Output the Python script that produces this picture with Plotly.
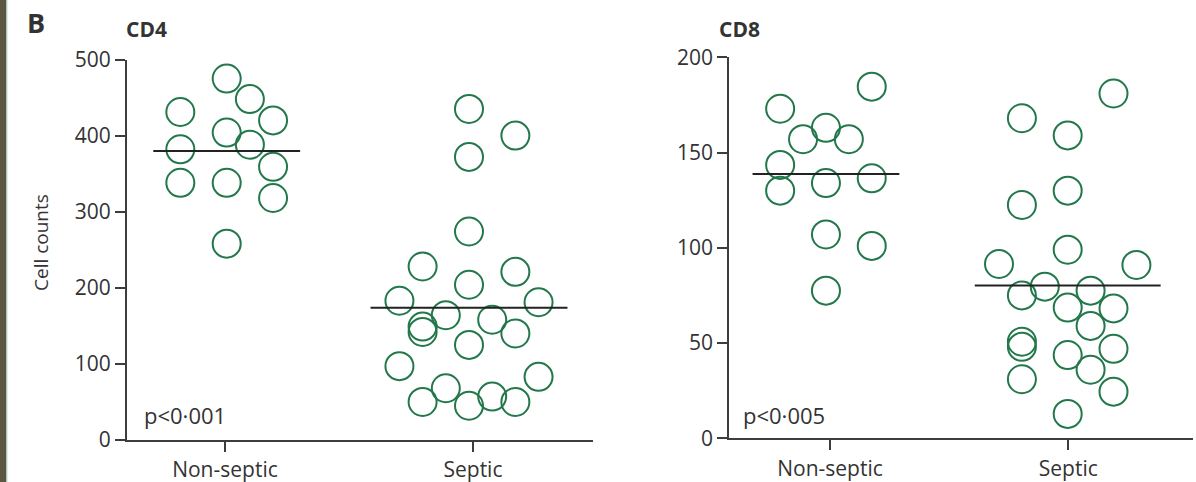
import numpy as np
import plotly.graph_objects as go

W, H = 1196, 482

categories = ["Non-septic", "Septic"]

# CD4 values (cells) and horizontal jitter slots
cd4_nonseptic = [475, 448, 431, 420, 404, 382, 388, 359, 338, 338, 318, 258]
cd4_nonseptic_slot = [0, 1, -2, 2, 0, -2, 1, 2, -2, 0, 2, 0]
cd4_septic = [435, 400, 372, 274, 228, 221, 204, 183, 181, 164, 158, 149, 142, 140,
              125, 97, 83, 68, 50, 45, 57, 50]
cd4_septic_slot = [0, 2, 0, 0, -2, 2, 0, -3, 3, -1, 1, -2, -2, 2, 0, -3, 3, -1, -2, 0, 1, 2]

# CD8 values and jitter slots
cd8_nonseptic = [184.6, 173, 163, 157, 157, 143.5, 136.5, 134, 130, 107, 101, 77.5]
cd8_nonseptic_slot = [2, -2, 0, -1, 1, -2, 2, 0, -2, 0, 2, 0]
cd8_septic = [181, 168, 159, 130, 122.5, 99, 91.5, 91, 79.6, 75, 77.5, 68.6, 68.2, 59,
              50.7, 48, 43.7, 47, 36, 31, 24.5, 12.8]
cd8_septic_slot = [2, -2, 0, 0, -2, 0, -3, 3, -1, -2, 1, 0, 2, 1, -2, -2, 0, 2, 1, -2, 2, 0]

p_values = ["p<0\u00b7001", "p<0\u00b7005"]

GREEN = "#22784a"
TEXT = "#333333"
AXIS = "#3d3d3d"
FONT = "Open Sans"


def px_x(p):
    return p / W


def px_y(p):
    return (H - p) / H


fig = go.Figure()

panels = [
    dict(xa="x", ya="y", ns=cd4_nonseptic, nss=cd4_nonseptic_slot, s=cd4_septic, ss=cd4_septic_slot,
         step=0.0935, c_ns=0.007, c_s=0.984, half_ns=0.296, half_s=0.397),
    dict(xa="x2", ya="y2", ns=cd8_nonseptic, nss=cd8_nonseptic_slot, s=cd8_septic, ss=cd8_septic_slot,
         step=0.0961, c_ns=-0.017, c_s=0.9975, half_ns=0.308, half_s=0.39),
]

for pn in panels:
    for vals, slots, c, half in [(pn["ns"], pn["nss"], pn["c_ns"], pn["half_ns"]),
                                 (pn["s"], pn["ss"], pn["c_s"], pn["half_s"])]:
        xs = [c + sl * pn["step"] for sl in slots]
        fig.add_trace(go.Scatter(
            x=xs, y=vals, mode="markers", xaxis=pn["xa"], yaxis=pn["ya"],
            marker=dict(symbol="circle-open", size=28, color=GREEN, line=dict(width=2, color=GREEN)),
            cliponaxis=False, showlegend=False, hoverinfo="y"))
        m = float(np.mean(vals))
        fig.add_trace(go.Scatter(
            x=[c - half, c + half], y=[m, m], mode="lines", xaxis=pn["xa"], yaxis=pn["ya"],
            line=dict(color="#222222", width=2), cliponaxis=False, showlegend=False, hoverinfo="skip"))

axis_common = dict(showgrid=False, zeroline=False, showline=True, linecolor=AXIS, linewidth=2,
                   ticks="outside", ticklen=10, tickwidth=2, tickcolor=AXIS, automargin=False,
                   tickfont=dict(family=FONT, size=21, color=TEXT))

fig.update_layout(
    width=W, height=H, margin=dict(l=0, r=0, t=0, b=0, autoexpand=False),
    paper_bgcolor="white", plot_bgcolor="white",
    xaxis=dict(domain=[px_x(127), px_x(593)], range=[-0.395, 1.484], anchor="y",
               tickvals=[0, 1], ticktext=categories, **axis_common),
    yaxis=dict(domain=[px_y(440), px_y(59.5)], range=[0, 500], anchor="x",
               tickvals=[0, 100, 200, 300, 400, 500], **axis_common),
    xaxis2=dict(domain=[px_x(729.3), px_x(1193)], range=[-0.4226, 1.5233], anchor="y2",
                tickvals=[0, 1], ticktext=categories, **axis_common),
    yaxis2=dict(domain=[px_y(438.3), px_y(57.3)], range=[0, 200], anchor="x2",
                tickvals=[0, 50, 100, 150, 200], **axis_common),
)

annots = [
    dict(text="<b>B</b>", x=px_x(35.5), y=px_y(22.5), size=27),
    dict(text="<b>CD4</b>", x=px_x(146), y=px_y(29), size=21),
    dict(text="<b>CD8</b>", x=px_x(739), y=px_y(29), size=21),
    dict(text=p_values[0], x=px_x(185), y=px_y(415), size=22),
    dict(text=p_values[1], x=px_x(784), y=px_y(415), size=22),
]
for a in annots:
    fig.add_annotation(text=a["text"], x=a["x"], y=a["y"], xref="paper", yref="paper",
                       xanchor="center", yanchor="middle", showarrow=False,
                       font=dict(family=FONT, size=a["size"], color=TEXT))

fig.add_annotation(text="Cell counts", x=px_x(41), y=px_y(243), xref="paper", yref="paper",
                   xanchor="center", yanchor="middle", showarrow=False, textangle=-90,
                   font=dict(family=FONT, size=19, color=TEXT))

# left page-edge strip
fig.add_shape(type="rect", xref="paper", yref="paper", x0=0, x1=px_x(6.5), y0=0, y1=1,
              fillcolor="#5b5642", line=dict(width=0), layer="above")
fig.add_shape(type="line", xref="paper", yref="paper", x0=px_x(7), x1=px_x(7), y0=0, y1=1,
              line=dict(color="#b5ddd6", width=1), layer="above")

fig.write_html("out.html")
